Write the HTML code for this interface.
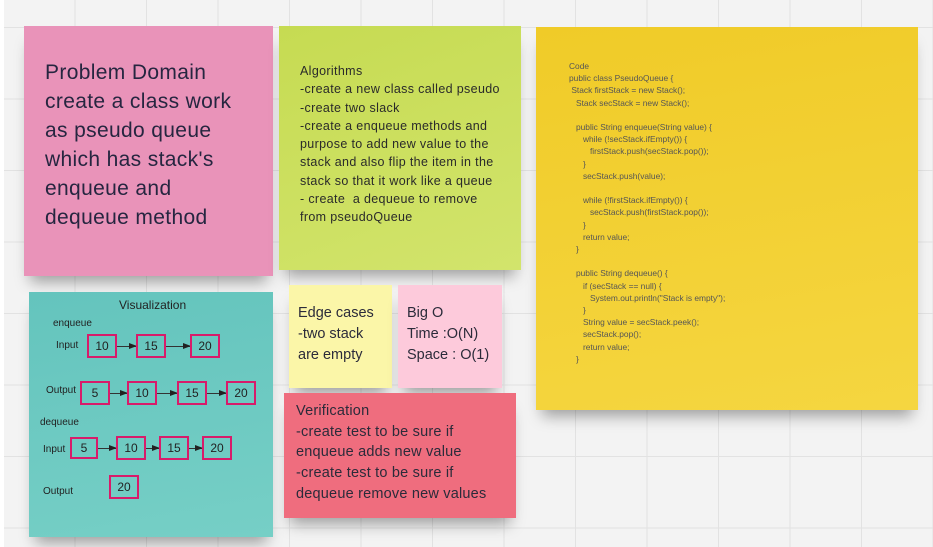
<!DOCTYPE html>
<html><head><meta charset="utf-8">
<style>
html,body{margin:0;padding:0;}
body{width:933px;height:547px;overflow:hidden;position:relative;font-family:"Liberation Sans",sans-serif;color:#2b2b3a;
background-color:#f3f3f3;
background-image:linear-gradient(#e2e2e2 1px,transparent 1px),linear-gradient(90deg,#e2e2e2 1px,transparent 1px);
background-size:71.5px 71.5px;background-position:3px 27px;}
.n{position:absolute;box-shadow:0 12px 14px -6px rgba(0,0,0,0.35);}
.t{position:absolute;white-space:pre;}
.b{position:absolute;border:2px solid #d81b6a;box-sizing:border-box;font-size:12px;text-align:center;color:#222;}
.a{position:absolute;height:1px;background:#333;}
.a:after{content:"";position:absolute;right:-1px;top:-3px;border-left:8px solid #222;border-top:3.5px solid transparent;border-bottom:3.5px solid transparent;}
.s{position:absolute;font-size:10px;color:#222;}
</style></head><body>
<div style="position:absolute;left:0;top:0;width:4px;height:547px;background:#fff"></div>
<div class="n" style="left:24px;top:26px;width:249px;height:250px;background:#e993b9"></div>
<div class="t" style="left:45px;top:58px;font-size:21px;line-height:29px;letter-spacing:0.35px;color:#262640">Problem Domain
create a class work
as pseudo queue
which has stack's
enqueue and
dequeue method</div>

<div class="n" style="left:279px;top:26px;width:242px;height:244px;background:linear-gradient(160deg,#c6db52,#d2e46c)"></div>
<div class="t" style="left:300px;top:62px;font-size:12.5px;line-height:18.3px;letter-spacing:0.35px;color:#2a2a2a">Algorithms
-create a new class called pseudo
-create two slack
-create a enqueue methods and
purpose to add new value to the
stack and also flip the item in the
stack so that it work like a queue
- create  a dequeue to remove
from pseudoQueue</div>

<div class="n" style="left:536px;top:27px;width:382px;height:383px;background:linear-gradient(170deg,#f0cb28,#f5d640)"></div>
<div class="t" style="left:569px;top:60px;font-size:8.4px;line-height:12.2px;color:#555">Code
public class PseudoQueue {
 Stack firstStack = new Stack();
   Stack secStack = new Stack();

   public String enqueue(String value) {
      while (!secStack.ifEmpty()) {
         firstStack.push(secStack.pop());
      }
      secStack.push(value);

      while (!firstStack.ifEmpty()) {
         secStack.push(firstStack.pop());
      }
      return value;
   }

   public String dequeue() {
      if (secStack == null) {
         System.out.println("Stack is empty");
      }
      String value = secStack.peek();
      secStack.pop();
      return value;
   }</div>

<div class="n" style="left:29px;top:292px;width:244px;height:245px;background:linear-gradient(170deg,#64c4bd,#76cfc6)"></div>
<div class="t" style="left:119px;top:298px;font-size:12px;color:#222">Visualization</div>
<div class="s" style="left:53px;top:318px">enqueue</div>
<div class="s" style="left:56px;top:340px">Input</div>
<div class="b" style="left:87px;top:334px;width:30px;height:24px;line-height:20px">10</div>
<div class="a" style="left:117px;top:346px;width:19px"></div>
<div class="b" style="left:136px;top:334px;width:30px;height:24px;line-height:20px">15</div>
<div class="a" style="left:166px;top:346px;width:24px"></div>
<div class="b" style="left:190px;top:334px;width:30px;height:24px;line-height:20px">20</div>

<div class="s" style="left:46px;top:385px">Output</div>
<div class="b" style="left:80px;top:381px;width:30px;height:24px;line-height:20px">5</div>
<div class="a" style="left:110px;top:393px;width:17px"></div>
<div class="b" style="left:127px;top:381px;width:30px;height:24px;line-height:20px">10</div>
<div class="a" style="left:157px;top:393px;width:20px"></div>
<div class="b" style="left:177px;top:381px;width:30px;height:24px;line-height:20px">15</div>
<div class="a" style="left:207px;top:393px;width:19px"></div>
<div class="b" style="left:226px;top:381px;width:30px;height:24px;line-height:20px">20</div>

<div class="s" style="left:40px;top:417px">dequeue</div>
<div class="s" style="left:43px;top:444px">Input</div>
<div class="b" style="left:70px;top:437px;width:28px;height:22px;line-height:18px">5</div>
<div class="a" style="left:98px;top:448px;width:18px"></div>
<div class="b" style="left:116px;top:436px;width:30px;height:24px;line-height:20px">10</div>
<div class="a" style="left:146px;top:448px;width:13px"></div>
<div class="b" style="left:159px;top:436px;width:30px;height:24px;line-height:20px">15</div>
<div class="a" style="left:189px;top:448px;width:13px"></div>
<div class="b" style="left:202px;top:436px;width:30px;height:24px;line-height:20px">20</div>

<div class="s" style="left:43px;top:486px">Output</div>
<div class="b" style="left:109px;top:475px;width:30px;height:24px;line-height:20px">20</div>

<div class="n" style="left:289px;top:285px;width:103px;height:103px;background:#fbf6a8"></div>
<div class="t" style="left:298px;top:303px;font-size:14.5px;line-height:21px">Edge cases
-two stack
are empty</div>

<div class="n" style="left:398px;top:285px;width:104px;height:103px;background:#fdcadb"></div>
<div class="t" style="left:407px;top:303px;font-size:14.5px;line-height:21px">Big O
Time :O(N)
Space : O(1)</div>

<div class="n" style="left:284px;top:393px;width:232px;height:125px;background:#ef6d7e"></div>
<div class="t" style="left:296px;top:401px;font-size:14.5px;line-height:20.7px;letter-spacing:0.2px">Verification
-create test to be sure if
enqueue adds new value
-create test to be sure if
dequeue remove new values</div>
</body></html>
